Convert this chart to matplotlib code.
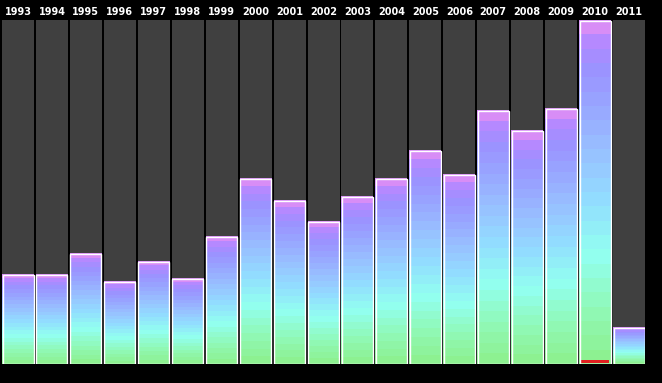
import matplotlib
matplotlib.use("Agg")
import matplotlib.pyplot as plt
from matplotlib.colors import LinearSegmentedColormap
import numpy as np

years = ["1993", "1994", "1995", "1996", "1997", "1998", "1999", "2000", "2001", "2002",
         "2003", "2004", "2005", "2006", "2007", "2008", "2009", "2010", "2011"]
values = [90, 90, 111, 83, 103, 86, 128, 186, 164, 143,
          168, 186, 214, 190, 254, 234, 256, 344, 37]
highlight_year = "2010"

W, H = 662, 383
fig = plt.figure(figsize=(W / 100, H / 100), dpi=100)
fig.patch.set_facecolor("black")

n = len(years)
step_px = (613 - 2) / (n - 1)
col_w = 32 / step_px
left_px, right_px = 2, 2 + 32 + step_px * (n - 1)
top_px, bot_px = 20, 364
ax = fig.add_axes([left_px / W, (H - bot_px) / H, (right_px - left_px) / W, (bot_px - top_px) / H])
ax.set_facecolor("black")
x = np.arange(n)
ax.set_xlim(-col_w / 2, n - 1 + col_w / 2)
ymax = max(values)
ax.set_ylim(0, ymax)
ax.axis("off")

cmap = LinearSegmentedColormap.from_list("grad", [
    (0.00, "#8cf08c"),
    (0.15, "#90f8b4"),
    (0.32, "#92fff0"),
    (0.48, "#92dcff"),
    (0.62, "#98c0ff"),
    (0.76, "#98a4ff"),
    (0.87, "#9c90ff"),
    (0.95, "#b888ff"),
    (1.00, "#ec90f0"),
])

# column backgrounds
ax.bar(x, [ymax] * n, width=col_w, color="#404040", linewidth=0, zorder=1)

# gradient bars as stacked bands
nb = 24
for i, v in enumerate(values):
    bh = v / nb
    for k in range(nb):
        ax.bar(x[i], bh * 1.02, bottom=k * bh, width=col_w, color=cmap((k + 0.5) / nb),
               linewidth=0, zorder=2)
    if years[i] == highlight_year:
        ax.bar(x[i], ymax * 0.008, bottom=ymax * 0.003, width=col_w * 0.9,
               color="#e02020", linewidth=0, zorder=3)

# white outline
inset = 0.5 / step_px
ax.bar(x, [v - 0.5 * ymax / 344 for v in values], width=col_w - 2 * inset, fill=False,
       edgecolor="white", linewidth=1.0, zorder=4)

for i, yr in enumerate(years):
    ax.text(x[i], ymax * 1.0 + 8 * ymax / 344, yr, ha="center", va="center", color="white",
            fontsize=7, fontweight="bold", family="DejaVu Sans", clip_on=False)

fig.savefig("out.png", dpi=100, facecolor="black")
